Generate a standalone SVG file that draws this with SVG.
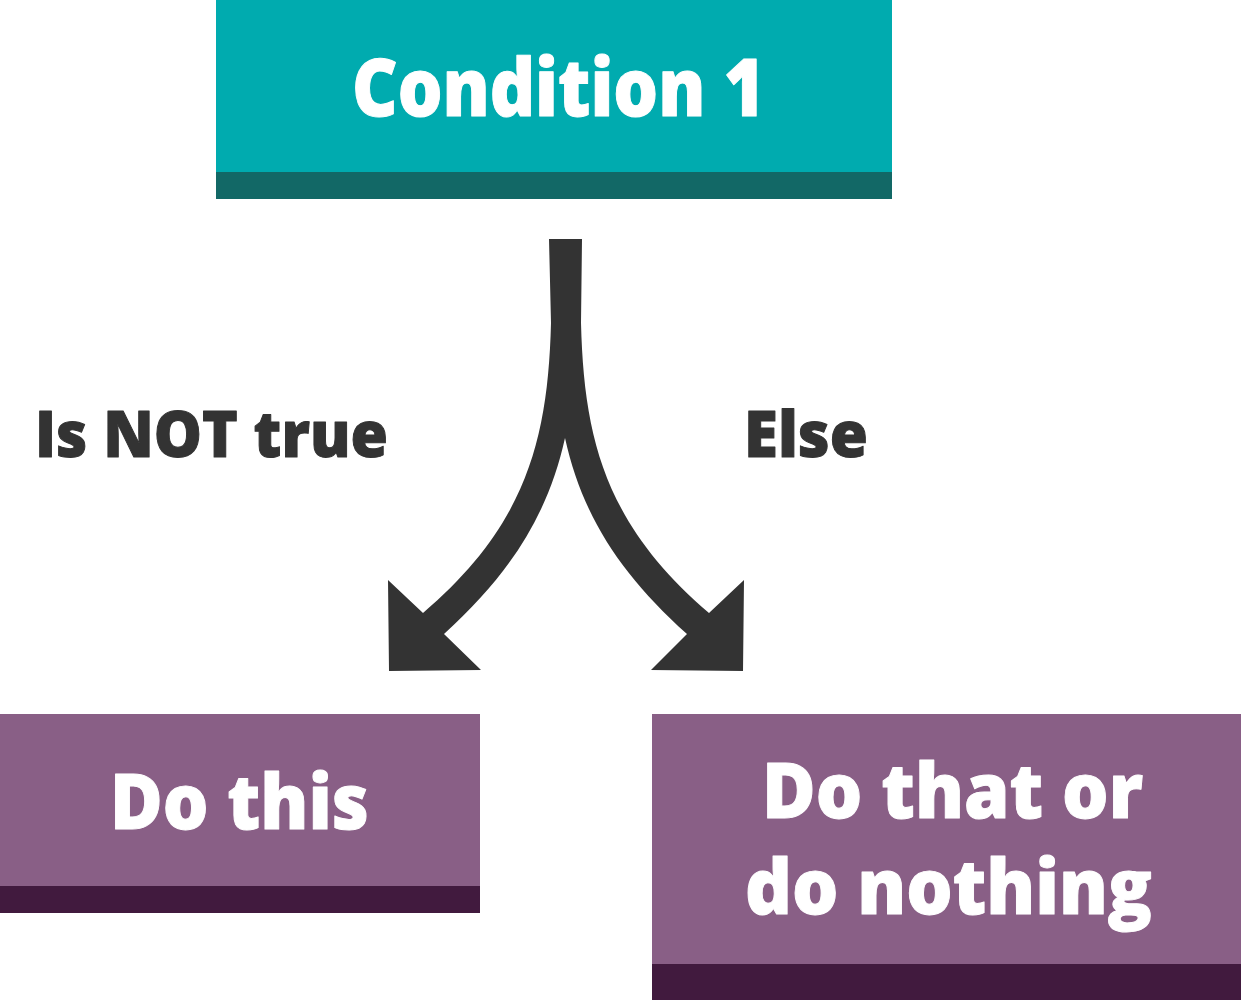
<svg xmlns="http://www.w3.org/2000/svg" width="1241" height="1000" viewBox="0 0 1241 1000">
  <style>
    .lbl { font-family: "Open Sans", "Liberation Sans", sans-serif; font-weight: 800; font-variant-ligatures: none; stroke-width: 1; stroke-linejoin: round; }
    .white { fill: #ffffff; stroke: #ffffff; }
    .dark { fill: #333333; }
    .txtdark { fill: #333333; stroke: #333333; }
    .teal { fill: #00abaf; }
    .tealdk { fill: #126866; }
    .purple { fill: #895f86; }
    .purpledk { fill: #411a3e; }
  </style>
  <rect width="1241" height="1000" fill="#ffffff"/>
  <g id="connectors">
    <path class="dark" d="M549,239 L582,239 L581,323 C584,440 606,525 709,613 L744,580 L743,671 L651,670 L687,634 C620,574 582,515 565,438 C548,515 510,574 444,634 L481,670 L389,671 L388,580 L423,613 C526,525 548,440 551,323 Z"/>
    <text class="lbl txtdark" x="35" y="457" font-size="63" textLength="353" lengthAdjust="spacingAndGlyphs">Is NOT true</text>
    <text class="lbl txtdark" x="744" y="457" font-size="63" textLength="124" lengthAdjust="spacingAndGlyphs">Else</text>
  </g>
  <g id="condition1">
    <rect class="teal" x="216" y="0" width="676" height="172"/>
    <rect class="tealdk" x="216" y="172" width="676" height="27"/>
    <text class="lbl white" x="352" y="116" font-size="80" textLength="413" lengthAdjust="spacingAndGlyphs">Condition 1</text>
  </g>
  <g id="dothis">
    <rect class="purple" x="0" y="714" width="480" height="172"/>
    <rect class="purpledk" x="0" y="886" width="480" height="27"/>
    <text class="lbl white" x="110" y="829" font-size="77" textLength="259" lengthAdjust="spacingAndGlyphs">Do this</text>
  </g>
  <g id="dothat">
    <rect class="purple" x="652" y="714" width="589" height="250"/>
    <rect class="purpledk" x="652" y="964" width="589" height="36"/>
    <text class="lbl white" x="762" y="818" font-size="77" textLength="381" lengthAdjust="spacingAndGlyphs">Do that or</text>
    <text class="lbl white" x="745" y="914" font-size="77" textLength="407" lengthAdjust="spacingAndGlyphs">do nothing</text>
  </g>
</svg>
